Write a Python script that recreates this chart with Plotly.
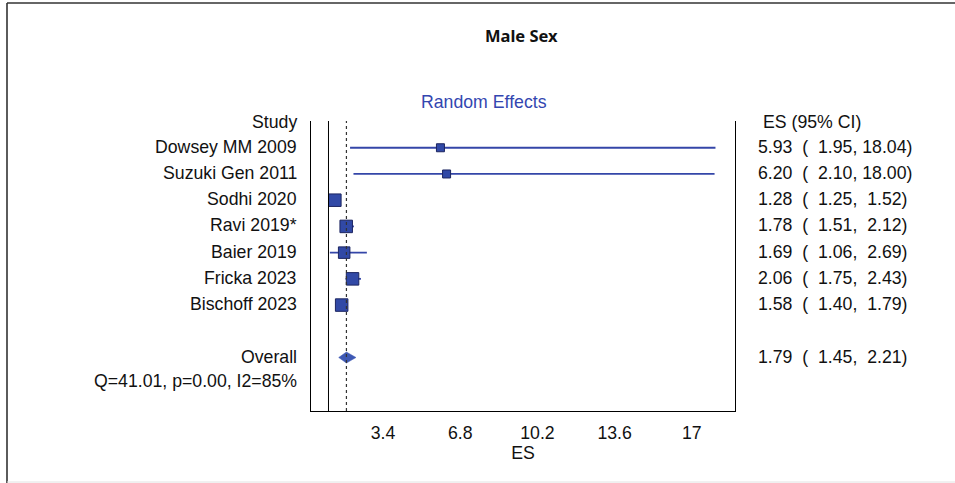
import plotly.graph_objects as go

# ---- data -------------------------------------------------------------
studies = ["Dowsey MM 2009", "Suzuki Gen 2011", "Sodhi 2020", "Ravi 2019*",
           "Baier 2019", "Fricka 2023", "Bischoff 2023"]
es = [5.93, 6.20, 1.28, 1.78, 1.69, 2.06, 1.58]
ci_low = [1.95, 2.10, 1.25, 1.51, 1.06, 1.75, 1.40]
ci_high = [18.04, 18.00, 1.52, 2.12, 2.69, 2.43, 1.79]

overall_es = 1.79
overall_low = 1.45
overall_high = 2.21
q_stat = 41.01
q_p = 0.00
i2 = 85

x_ticks = [3.4, 6.8, 10.2, 13.6, 17]

# ---- style ------------------------------------------------------------
W, H = 955, 483
PLOT_L, PLOT_R, PLOT_T, PLOT_B = 311, 735, 121, 411
FONT = "Liberation Sans, Arial, sans-serif"
FS = 17.7
BLUE = "#3446a8"
SQ_FILL = "#3149a6"
SQ_EDGE = "#1c2560"
square_px = [8, 8, 12.5, 12.5, 11.5, 12.5, 12.5]

study_rows = list(range(len(studies)))
overall_row = len(studies) + 1
header_row = -1
stats_row = overall_row + 1


def px_x(p):
    return (p - PLOT_L) / (PLOT_R - PLOT_L)


def px_y(p):
    return (PLOT_B - p) / (PLOT_B - PLOT_T)


fig = go.Figure()

# study estimates with confidence intervals
fig.add_trace(go.Scatter(
    x=es, y=study_rows, mode="markers",
    marker=dict(symbol="square", size=square_px, color=SQ_FILL, opacity=1,
                line=dict(color=SQ_EDGE, width=1)),
    error_x=dict(type="data", symmetric=False,
                 array=[h - e for h, e in zip(ci_high, es)],
                 arrayminus=[e - l for e, l in zip(es, ci_low)],
                 color=BLUE, thickness=1.8, width=0),
    hoverinfo="skip", showlegend=False,
))

# pooled estimate diamond
d_half = 0.21
fig.add_trace(go.Scatter(
    x=[overall_low, overall_es, overall_high, overall_es, overall_low],
    y=[overall_row, overall_row - d_half, overall_row, overall_row + d_half, overall_row],
    mode="lines", fill="toself", fillcolor="#3d58b4",
    line=dict(color="#3d58b4", width=0.5),
    hoverinfo="skip", showlegend=False,
))

shapes = [
    # line of no effect
    dict(type="line", xref="x", yref="paper", x0=1, x1=1, y0=0, y1=1,
         line=dict(color="black", width=1)),
    # pooled effect reference
    dict(type="line", xref="x", yref="paper", x0=overall_es, x1=overall_es,
         y0=0, y1=1, line=dict(color="#333333", width=1.2, dash="dot")),
    # outer frame (left and top)
    dict(type="line", xref="paper", yref="paper", x0=px_x(7), x1=px_x(7),
         y0=px_y(3), y1=px_y(483), line=dict(color="#333333", width=1.6)),
    dict(type="line", xref="paper", yref="paper", x0=px_x(7), x1=px_x(955),
         y0=px_y(3), y1=px_y(3), line=dict(color="#333333", width=1.6)),
    dict(type="line", xref="paper", yref="paper", x0=px_x(7), x1=px_x(955),
         y0=px_y(482), y1=px_y(482), line=dict(color="#e2e2e2", width=1)),
]

annotations = []
txt = dict(family=FONT, size=FS, color="#111111")

annotations.append(dict(text="Study", x=px_x(299), y=header_row, xref="paper", yref="y",
                        xanchor="right", yanchor="middle", showarrow=False, font=txt))
annotations.append(dict(text="ES (95% CI)", x=px_x(761), y=header_row, xref="paper", yref="y",
                        xanchor="left", yanchor="middle", showarrow=False, font=txt))

for r, name, e, lo, hi in zip(study_rows, studies, es, ci_low, ci_high):
    annotations.append(dict(text=name, x=px_x(299), y=r, xref="paper", yref="y",
                            xanchor="right", yanchor="middle", showarrow=False, font=txt,
                            yshift=1))
    label = f"{e:.2f}  ( {lo:5.2f}, {hi:5.2f})".replace(" ", "\u00a0")
    annotations.append(dict(text=label, x=px_x(756), y=r, xref="paper", yref="y",
                            xanchor="left", yanchor="middle", showarrow=False, font=txt,
                            yshift=1))

annotations.append(dict(text="Overall", x=px_x(299), y=overall_row, xref="paper", yref="y",
                        xanchor="right", yanchor="middle", showarrow=False, font=txt, yshift=1))
ov_label = f"{overall_es:.2f}  ( {overall_low:5.2f}, {overall_high:5.2f})".replace(" ", "\u00a0")
annotations.append(dict(text=ov_label, x=px_x(756), y=overall_row, xref="paper", yref="y",
                        xanchor="left", yanchor="middle", showarrow=False, font=txt, yshift=1))
annotations.append(dict(text=f"Q={q_stat:.2f}, p={q_p:.2f}, I2={i2}%", x=px_x(299), y=stats_row,
                        xref="paper", yref="y", xanchor="right", yanchor="middle",
                        showarrow=False, font=txt, yshift=3))

annotations.append(dict(text="Random Effects", x=px_x(484), y=px_y(102), xref="paper",
                        yref="paper", xanchor="center", yanchor="middle", showarrow=False,
                        font=dict(family=FONT, size=FS, color="#3346b0")))
annotations.append(dict(text="<b>Male Sex</b>", x=px_x(521), y=px_y(35), xref="paper",
                        yref="paper", xanchor="center", yanchor="middle", showarrow=False,
                        font=dict(family="Noto Sans, sans-serif", size=16.5, color="#111111")))

fig.update_layout(
    width=W, height=H,
    margin=dict(l=PLOT_L, r=W - PLOT_R, t=PLOT_T, b=H - PLOT_B, pad=0),
    paper_bgcolor="white", plot_bgcolor="white",
    shapes=shapes, annotations=annotations,
    xaxis=dict(range=[0.23, 18.9], tickmode="array", tickvals=x_ticks,
               ticktext=[f"{v:g}" for v in x_ticks],
               showgrid=False, zeroline=False, showline=True,
               linecolor="black", linewidth=1.3, ticks="",
               ticklabelstandoff=6,
               tickfont=dict(family=FONT, size=FS, color="#111111"),
               title=dict(text="ES", font=dict(family=FONT, size=FS, color="#111111"),
                          standoff=3)),
    yaxis=dict(range=[10.04, -1.02], showgrid=False, zeroline=False,
               showline=True, mirror=True, linecolor="black", linewidth=1.3,
               showticklabels=False, ticks=""),
)

fig.write_html("out.html")
